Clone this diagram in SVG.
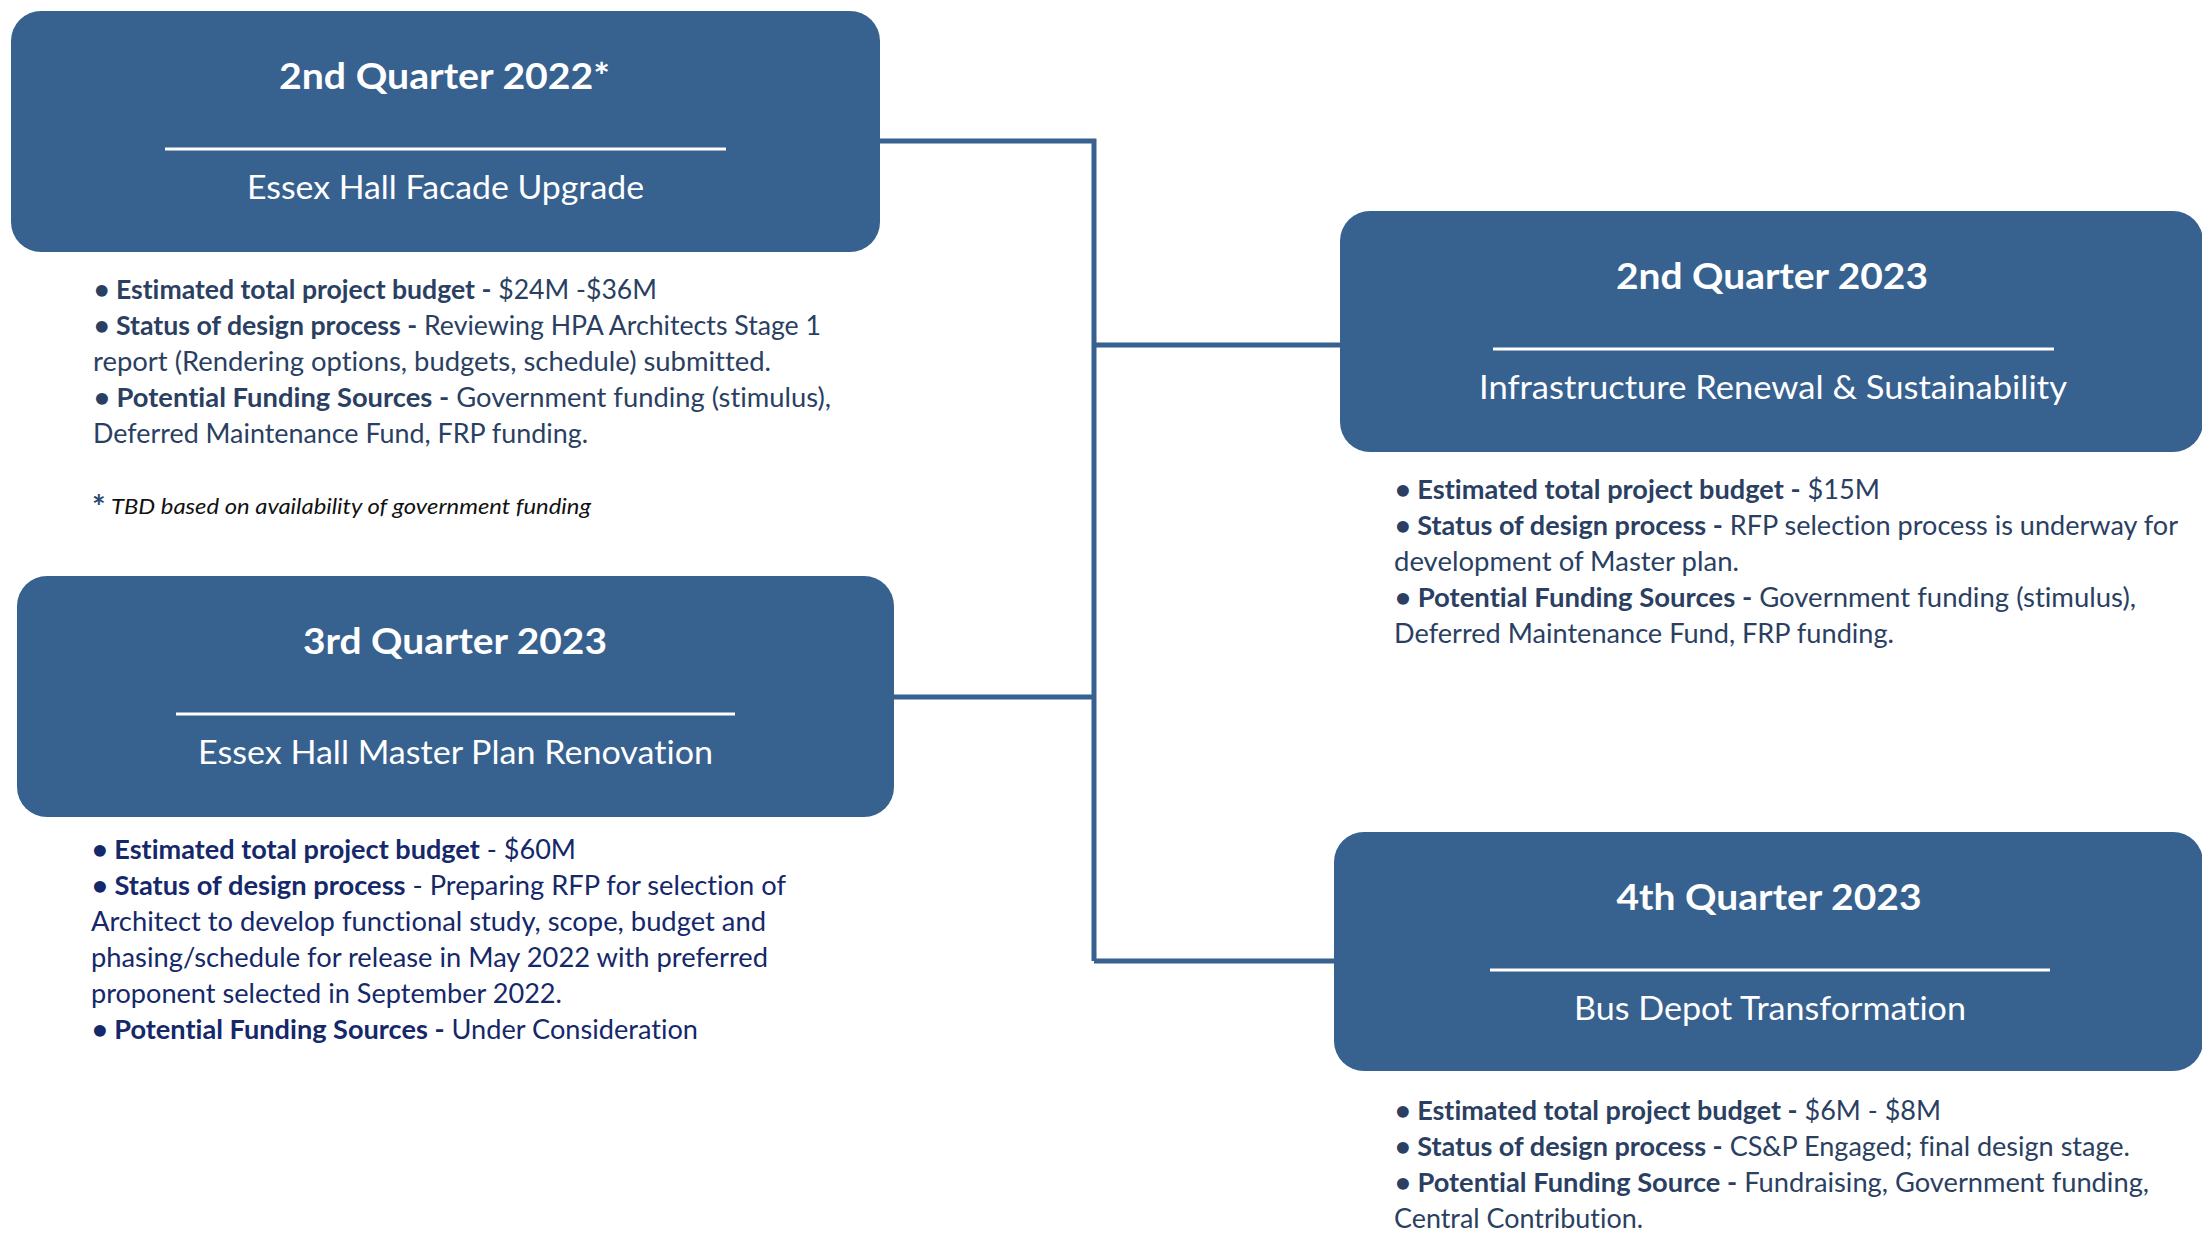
<svg xmlns="http://www.w3.org/2000/svg" width="2202" height="1237" viewBox="0 0 2202 1237">
<style>
text{font-variant-ligatures:none;}
.box{fill:#37618F;}
.title{font-family:Lato,"Open Sans",sans-serif;font-weight:bold;font-size:37px;fill:#FFFFFF;text-anchor:middle;}
.sub{font-family:Lato,"Open Sans",sans-serif;font-size:33px;fill:#FFFFFF;text-anchor:middle;}
.sep{stroke:#FFFFFF;stroke-width:3;}
.body{font-family:Lato,"Open Sans",sans-serif;font-size:27px;fill:#2A3F62;}
.body3{font-family:Lato,"Open Sans",sans-serif;font-size:27px;fill:#14286A;}
.b{font-weight:bold;}
.note{font-family:Lato,"Open Sans",sans-serif;font-style:italic;font-size:21px;fill:#111111;}
.ast{font-family:Lato,"Open Sans",sans-serif;font-weight:bold;font-size:32px;fill:#2A4A78;}
.conn{fill:none;stroke:#37618F;stroke-width:5;}
</style>
<rect width="2202" height="1237" fill="#FFFFFF"/>
<g id="connectors">
<path class="conn" d="M880,141 H1094 V961"/>
<path class="conn" d="M1094,345 H1342"/>
<path class="conn" d="M894,697 H1094"/>
<path class="conn" d="M1094,961 H1336"/>
</g>
<g id="node-q2-2022">
<rect class="box" x="11" y="11" width="869" height="241" rx="30"/>
<text class="title" x="444.5" y="89" textLength="331" lengthAdjust="spacingAndGlyphs">2nd Quarter 2022*</text>
<line class="sep" x1="165" y1="149" x2="726" y2="149"/>
<text class="sub" x="445.5" y="199" textLength="397" lengthAdjust="spacingAndGlyphs">Essex Hall Facade Upgrade</text>
</g>
<g id="details-q2-2022">
<text class="body" x="94" y="299" textLength="563" lengthAdjust="spacingAndGlyphs"><tspan class="b">• Estimated total project budget -</tspan> $24M -$36M</text>
<text class="body" x="94" y="335" textLength="727" lengthAdjust="spacingAndGlyphs"><tspan class="b">• Status of design process -</tspan> Reviewing HPA Architects Stage 1</text>
<text class="body" x="93" y="371" textLength="678" lengthAdjust="spacingAndGlyphs">report (Rendering options, budgets, schedule) submitted.</text>
<text class="body" x="94" y="407" textLength="737" lengthAdjust="spacingAndGlyphs"><tspan class="b">• Potential Funding Sources -</tspan> Government funding (stimulus),</text>
<text class="body" x="93" y="443" textLength="495" lengthAdjust="spacingAndGlyphs">Deferred Maintenance Fund, FRP funding.</text>
<text class="ast" x="92" y="519">*</text>
<text class="note" x="111" y="514" textLength="480" lengthAdjust="spacingAndGlyphs">TBD based on availability of government funding</text>
</g>
<g id="node-q2-2023">
<rect class="box" x="1340" y="211" width="863" height="241" rx="30"/>
<text class="title" x="1772" y="289" textLength="312" lengthAdjust="spacingAndGlyphs">2nd Quarter 2023</text>
<line class="sep" x1="1493" y1="349" x2="2054" y2="349"/>
<text class="sub" x="1773" y="399" textLength="588" lengthAdjust="spacingAndGlyphs">Infrastructure Renewal &amp; Sustainability</text>
</g>
<g id="details-q2-2023">
<text class="body" x="1395" y="499" textLength="485" lengthAdjust="spacingAndGlyphs"><tspan class="b">• Estimated total project budget -</tspan> $15M</text>
<text class="body" x="1395" y="535" textLength="783" lengthAdjust="spacingAndGlyphs"><tspan class="b">• Status of design process -</tspan> RFP selection process is underway for</text>
<text class="body" x="1394" y="571" textLength="345" lengthAdjust="spacingAndGlyphs">development of Master plan.</text>
<text class="body" x="1395" y="607" textLength="741" lengthAdjust="spacingAndGlyphs"><tspan class="b">• Potential Funding Sources -</tspan> Government funding (stimulus),</text>
<text class="body" x="1394" y="643" textLength="500" lengthAdjust="spacingAndGlyphs">Deferred Maintenance Fund, FRP funding.</text>
</g>
<g id="node-q3-2023">
<rect class="box" x="17" y="576" width="877" height="241" rx="30"/>
<text class="title" x="455" y="654" textLength="304" lengthAdjust="spacingAndGlyphs">3rd Quarter 2023</text>
<line class="sep" x1="176" y1="714" x2="735" y2="714"/>
<text class="sub" x="455.5" y="764" textLength="515" lengthAdjust="spacingAndGlyphs">Essex Hall Master Plan Renovation</text>
</g>
<g id="details-q3-2023">
<text class="body3" x="92" y="859" textLength="484" lengthAdjust="spacingAndGlyphs"><tspan class="b">• Estimated total project budget</tspan> - $60M</text>
<text class="body3" x="92" y="895" textLength="694" lengthAdjust="spacingAndGlyphs"><tspan class="b">• Status of design process</tspan> - Preparing  RFP for selection of</text>
<text class="body3" x="91" y="931" textLength="675" lengthAdjust="spacingAndGlyphs">Architect to develop functional study, scope, budget and</text>
<text class="body3" x="91" y="967" textLength="677" lengthAdjust="spacingAndGlyphs">phasing/schedule for release in May 2022 with preferred</text>
<text class="body3" x="91" y="1003" textLength="471" lengthAdjust="spacingAndGlyphs">proponent selected in September 2022.</text>
<text class="body3" x="92" y="1039" textLength="606" lengthAdjust="spacingAndGlyphs"><tspan class="b">• Potential Funding Sources -</tspan> Under Consideration</text>
</g>
<g id="node-q4-2023">
<rect class="box" x="1334" y="832" width="869" height="239" rx="30"/>
<text class="title" x="1769" y="910" textLength="305" lengthAdjust="spacingAndGlyphs">4th Quarter 2023</text>
<line class="sep" x1="1490" y1="970" x2="2050" y2="970"/>
<text class="sub" x="1770" y="1020" textLength="392" lengthAdjust="spacingAndGlyphs">Bus Depot Transformation</text>
</g>
<g id="details-q4-2023">
<text class="body" x="1395" y="1120" textLength="546" lengthAdjust="spacingAndGlyphs"><tspan class="b">• Estimated total project budget -</tspan> $6M - $8M</text>
<text class="body" x="1395" y="1156" textLength="735" lengthAdjust="spacingAndGlyphs"><tspan class="b">• Status of design process -</tspan> CS&amp;P Engaged; final design stage.</text>
<text class="body" x="1395" y="1192" textLength="754" lengthAdjust="spacingAndGlyphs"><tspan class="b">• Potential Funding Source -</tspan> Fundraising, Government funding,</text>
<text class="body" x="1394" y="1228" textLength="249" lengthAdjust="spacingAndGlyphs">Central Contribution.</text>
</g>
</svg>
